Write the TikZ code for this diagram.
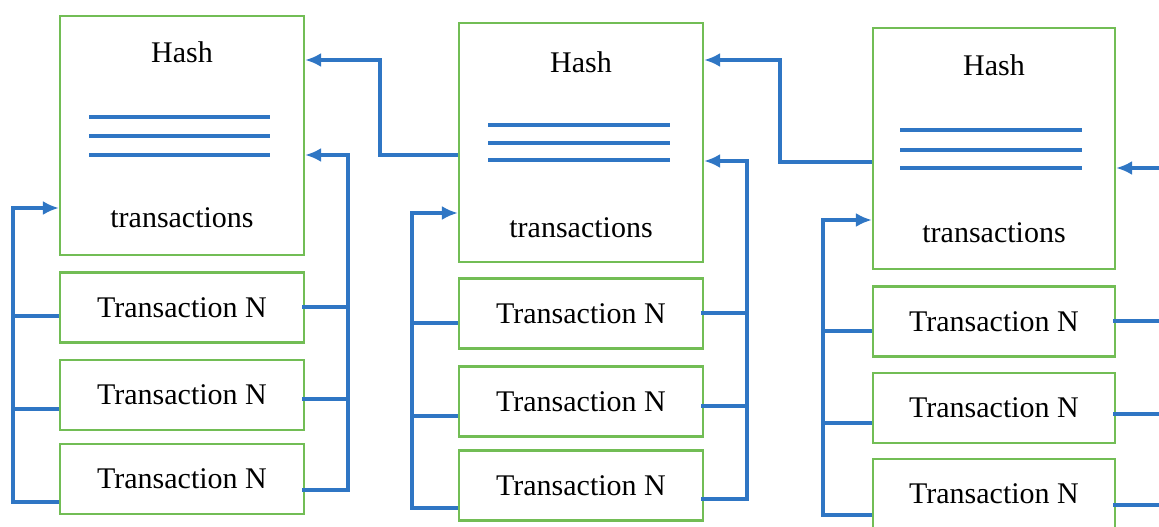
\documentclass[tikz,border=0pt]{standalone}
\usepackage{fontspec}
\setmainfont{Liberation Serif}
\usetikzlibrary{arrows.meta}
\definecolor{bxgreen}{HTML}{72BD55}
\definecolor{lnblue}{HTML}{2F76C4}
\tikzset{
  bigbox/.style={draw=bxgreen, line width=2.2pt, fill=white, minimum width=244pt, inner sep=0pt},
  txbox/.style={draw=bxgreen, line width=2.2pt, fill=white, minimum width=244pt, minimum height=70pt, inner sep=0pt, font=\fontsize{30}{33}\selectfont},
  lbl/.style={inner sep=0pt, font=\fontsize{30}{33}\selectfont},
  wire/.style={draw=lnblue, line width=3.4pt},
  arr/.style={draw=lnblue, line width=3.4pt, -{Latex[length=16pt,width=14pt]}},
  hline/.style={draw=lnblue, line width=3.6pt}
}
\begin{document}
\begin{tikzpicture}[x=1pt,y=-1pt]
\useasboundingbox (0,0) rectangle (1159,527);
\fill[white] (0,0) rectangle (1159,527);

% ---------- Block 1 ----------
\node[bigbox, minimum height=239pt] (H1) at (182,135.5) {};
\node[lbl] (h1) at (182,52) {Hash};
\node[lbl] (t1) at (182,218) {transactions};
\draw[hline] (89,117) -- (270,117);
\draw[hline] (89,136) -- (270,136);
\draw[hline] (89,155) -- (270,155);
\node[txbox] (T11) at (182,307.5) {Transaction N};
\node[txbox] (T12) at (182,395) {Transaction N};
\node[txbox] (T13) at (182,479) {Transaction N};
\coordinate (L1) at (13,0);
\coordinate (R1) at (348,0);
\draw[arr] (T13.west |- 0,502) -| (L1 |- 0,208) -- (H1.west |- 0,208);
\draw[wire] (T11.west |- 0,316) -- (L1 |- 0,316);
\draw[wire] (T12.west |- 0,409) -- (L1 |- 0,409);
\draw[arr] ([xshift=-3pt]T13.east |- 0,490) -| (R1 |- 0,155) -- (H1.east |- 0,155);
\draw[wire] ([xshift=-3pt]T11.east |- 0,307) -- (R1 |- 0,307);
\draw[wire] ([xshift=-3pt]T12.east |- 0,399) -- (R1 |- 0,399);

% ---------- Block 2 ----------
\node[bigbox, minimum height=239pt] (H2) at (581,142.5) {};
\node[lbl] (h2) at (581,62) {Hash};
\node[lbl] (t2) at (581,228) {transactions};
\draw[hline] (488,125) -- (670,125);
\draw[hline] (488,143) -- (670,143);
\draw[hline] (488,160) -- (670,160);
\node[txbox] (T21) at (581,313.5) {Transaction N};
\node[txbox] (T22) at (581,401.5) {Transaction N};
\node[txbox] (T23) at (581,485.5) {Transaction N};
\coordinate (L2) at (412,0);
\coordinate (R2) at (747,0);
\draw[arr] (T23.west |- 0,508) -| (L2 |- 0,213) -- (H2.west |- 0,213);
\draw[wire] (T21.west |- 0,323) -- (L2 |- 0,323);
\draw[wire] (T22.west |- 0,416) -- (L2 |- 0,416);
\draw[arr] ([xshift=-3pt]T23.east |- 0,499) -| (R2 |- 0,161) -- (H2.east |- 0,161);
\draw[wire] ([xshift=-3pt]T21.east |- 0,313) -- (R2 |- 0,313);
\draw[wire] ([xshift=-3pt]T22.east |- 0,406) -- (R2 |- 0,406);
% link block 2 -> block 1
\coordinate (K1) at (380,0);
\draw[arr] (H2.west |- 0,155) -| (K1 |- 0,60) -- (H1.east |- 0,60);

% ---------- Block 3 ----------
\node[bigbox, minimum width=242pt, minimum height=241pt] (H3) at (994,148.5) {};
\node[lbl] (h3) at (994,65) {Hash};
\node[lbl] (t3) at (994,233) {transactions};
\draw[hline] (900,130) -- (1082,130);
\draw[hline] (900,150) -- (1082,150);
\draw[hline] (900,168) -- (1082,168);
\node[txbox, minimum width=242pt] (T31) at (994,321.5) {Transaction N};
\node[txbox, minimum width=242pt] (T32) at (994,408) {Transaction N};
\node[txbox, minimum width=242pt] (T33) at (994,494) {Transaction N};
\coordinate (L3) at (823,0);
\coordinate (R3) at (1175,0);
\draw[arr] (T33.west |- 0,515) -| (L3 |- 0,220) -- (H3.west |- 0,220);
\draw[wire] (T31.west |- 0,331) -- (L3 |- 0,331);
\draw[wire] (T32.west |- 0,423) -- (L3 |- 0,423);
\draw[arr] ([xshift=-3pt]T33.east |- 0,505) -| (R3 |- 0,168) -- (H3.east |- 0,168);
\draw[wire] ([xshift=-3pt]T31.east |- 0,321) -- (R3 |- 0,321);
\draw[wire] ([xshift=-3pt]T32.east |- 0,414) -- (R3 |- 0,414);
% link block 3 -> block 2
\coordinate (K2) at (780,0);
\draw[arr] (H3.west |- 0,162) -| (K2 |- 0,60) -- (H2.east |- 0,60);
\end{tikzpicture}
\end{document}
